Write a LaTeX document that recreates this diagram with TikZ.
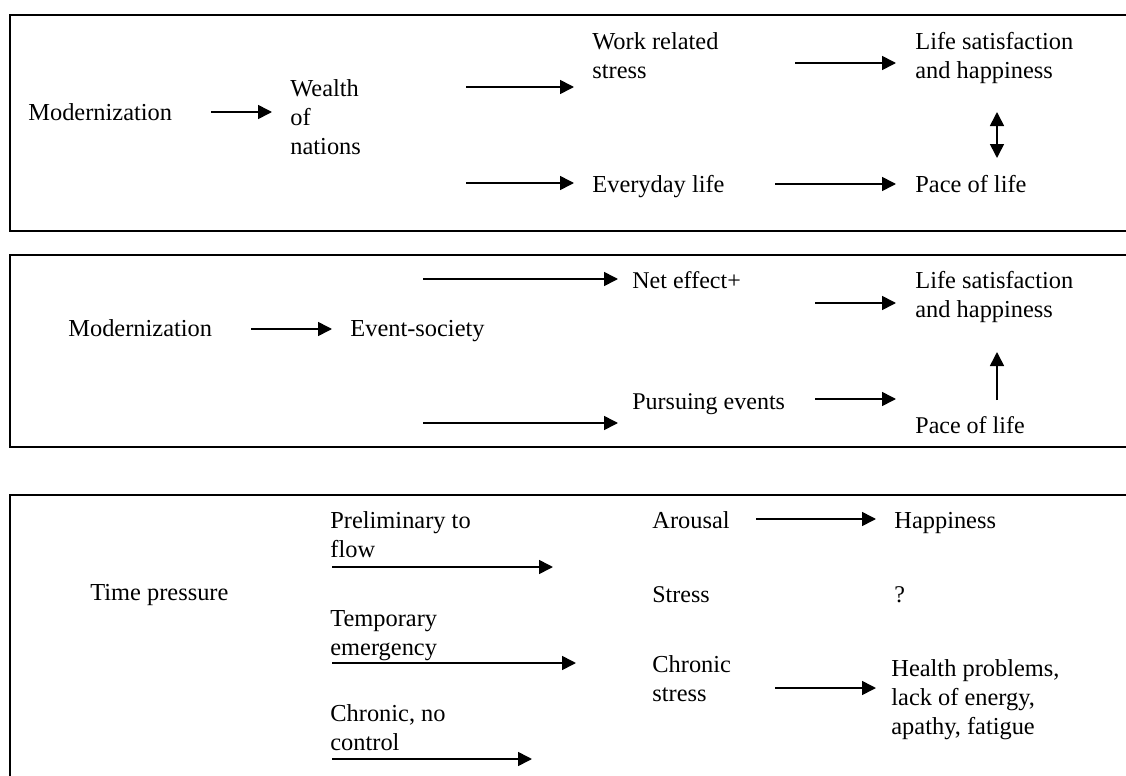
\documentclass[tikz,border=0pt]{standalone}
\usepackage{fontspec}
\setmainfont{Liberation Serif}
\usetikzlibrary{arrows.meta}
\begin{document}
\begin{tikzpicture}[x=0.5pt,y=-0.5pt,
  % multi-line labels sit on the baseline of their last line
  lbl/.style={inner sep=0pt, anchor=base west, align=left,
    font=\fontsize{12.2pt}{14.3pt}\selectfont},
  tms/.style={lbl, font=\fontsize{12pt}{14.3pt}\selectfont},
  link/.style={line width=0.8pt, -{Triangle[length=7pt,width=7pt]}},
  both/.style={line width=0.8pt, {Triangle[length=7pt,width=7pt]}-{Triangle[length=7pt,width=7pt]}},
  frame/.style={line width=1pt}]
\useasboundingbox (0,0) rectangle (1126,776);
\clip (0,0) rectangle (1126,776);

% panel frames (right and bottom edges run off the page)
\draw[frame] (10,15) rectangle (1140,231);
\draw[frame] (10,255) rectangle (1140,447);
\draw[frame] (10,495) rectangle (1140,800);

% ---- panel 1: modernization via wealth of nations
\node[lbl] (mod1)   at (28,120)  {Modernization};
\node[lbl] (wealth) at (290,154) {Wealth\\of\\nations};
\node[lbl] (work)   at (592,78)  {Work related\\stress};
\node[lbl] (every)  at (592,192) {Everyday life};
\node[lbl] (life1)  at (915,78)  {Life satisfaction\\and happiness};
\node[lbl] (pace1)  at (915,192) {Pace of life};

\coordinate (p1a) at (211,112); \coordinate (p1b) at (272,112);
\coordinate (p1c) at (466,87);  \coordinate (p1d) at (574,87);
\coordinate (p1e) at (466,183); \coordinate (p1f) at (574,183);
\coordinate (p1g) at (795,63);  \coordinate (p1h) at (896,63);
\coordinate (p1i) at (775,184); \coordinate (p1j) at (896,184);
\coordinate (p1k) at (997,112); \coordinate (p1l) at (997,158);
\draw[link] (p1a) -- (p1b);
\draw[link] (p1c) -- (p1d);
\draw[link] (p1e) -- (p1f);
\draw[link] (p1g) -- (p1h);
\draw[link] (p1i) -- (p1j);
\draw[both] (p1k) -- (p1l);

% ---- panel 2: modernization via event-society
\node[lbl] (mod2)   at (68,336)  {Modernization};
\node[lbl] (event)  at (350,336) {Event-society};
\node[tms] (net)    at (632,288) {Net effect+};
\node[lbl] (life2)  at (915,317) {Life satisfaction\\and happiness};
\node[tms] (pursue) at (632,409) {Pursuing events};
\node[tms] (pace2)  at (915,433) {Pace of life};

\coordinate (p2a) at (251,329); \coordinate (p2b) at (332,329);
\coordinate (p2c) at (423,279); \coordinate (p2d) at (618,279);
\coordinate (p2e) at (423,423); \coordinate (p2f) at (618,423);
\coordinate (p2g) at (815,303); \coordinate (p2h) at (896,303);
\coordinate (p2i) at (815,399); \coordinate (p2j) at (896,399);
\coordinate (p2k) at (997,400); \coordinate (p2l) at (997,352);
\draw[link] (p2a) -- (p2b);
\draw[link] (p2c) -- (p2d);
\draw[link] (p2e) -- (p2f);
\draw[link] (p2g) -- (p2h);
\draw[link] (p2i) -- (p2j);
\draw[link] (p2k) -- (p2l);

% ---- panel 3: time pressure
\node[lbl] (time)    at (90,600)  {Time pressure};
\node[lbl] (prelim)  at (330,557) {Preliminary to\\flow};
\node[lbl] (temp)    at (330,655) {Temporary\\emergency};
\node[lbl] (chron)   at (330,750) {Chronic, no\\control};
\node[lbl] (arousal) at (652,528) {Arousal};
\node[lbl] (happy)   at (894,528) {Happiness};
\node[tms] (stress)  at (652,602) {Stress};
\node[tms] (quest)   at (894,602) {?};
\node[lbl] (cstress) at (652,701) {Chronic\\stress};
\node[lbl] (health)  at (891,734) {Health problems,\\lack of energy,\\apathy, fatigue};

\coordinate (p3a) at (332,567); \coordinate (p3b) at (553,567);
\coordinate (p3c) at (332,663); \coordinate (p3d) at (576,663);
\coordinate (p3e) at (332,759); \coordinate (p3f) at (532,759);
\coordinate (p3g) at (756,519); \coordinate (p3h) at (876,519);
\coordinate (p3i) at (775,688); \coordinate (p3j) at (876,688);
\draw[link] (p3a) -- (p3b);
\draw[link] (p3c) -- (p3d);
\draw[link] (p3e) -- (p3f);
\draw[link] (p3g) -- (p3h);
\draw[link] (p3i) -- (p3j);
\end{tikzpicture}
\end{document}
